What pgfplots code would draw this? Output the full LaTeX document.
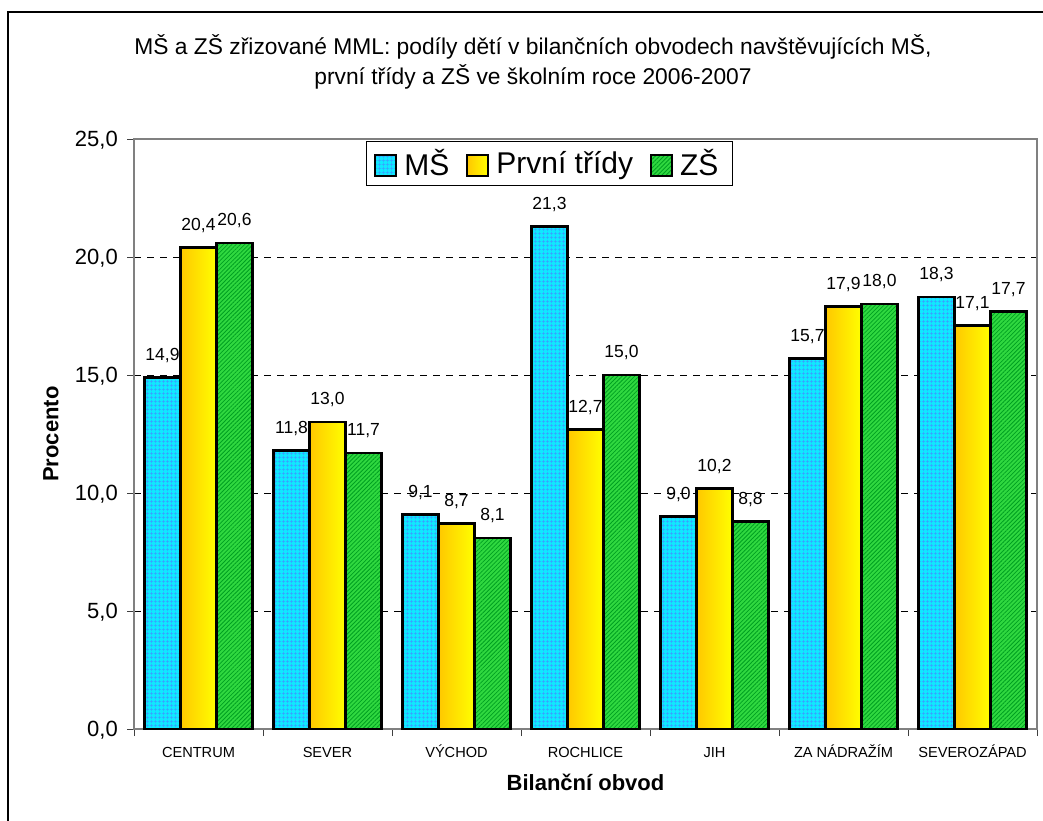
\documentclass[border=0pt]{standalone}
\usepackage{fontspec}
\setmainfont{Liberation Sans}
\usepackage{pgfplots}
\pgfplotsset{compat=1.18}
\usetikzlibrary{patterns.meta}

\definecolor{msfill}{HTML}{10E8FF}
\definecolor{msgrid}{HTML}{3C9CFF}
\definecolor{yl}{HTML}{FFC800}
\definecolor{yr}{HTML}{FFFF00}
\definecolor{zsfill}{HTML}{30D840}
\definecolor{zshatch}{HTML}{00A020}
\definecolor{axgray}{HTML}{808080}

\pgfplotsset{
  /pgf/number format/.cd, use comma, fixed, fixed zerofill, precision=1, assume math mode=true,
  /pgfplots/.cd,
  boxleg/.style={legend image code/.code={\draw[##1, line width=2pt] (0pt,-13pt) rectangle (21pt,8pt);}},
  % yellow bars: one plot per bar so each gets its own gradient
  yel/.style={ybar, bar width=0.279, bar shift=0, draw=black, line width=2.5pt, left color=yl, right color=yr, boxleg},
}

\begin{document}
\begin{tikzpicture}
\useasboundingbox (0pt,0pt) rectangle (1043pt,-820pt);
\clip (0pt,0pt) rectangle (1043pt,-820pt);
\draw[line width=1.5pt] (8pt,-840pt) -- (8pt,-12pt) -- (1060pt,-12pt);

\begin{axis}[
  at={(134pt,-729pt)}, anchor=south west,
  scale only axis, width=903pt, height=590pt,
  ybar,
  xmin=-0.5, xmax=6.5, ymin=0, ymax=25,
  ytick={0,5,...,25},
  xtick={0,...,6},
  xticklabels={CENTRUM, SEVER, VÝCHOD, ROCHLICE, JIH, ZA NÁDRAŽÍM, SEVEROZÁPAD},
  minor xtick={-0.5,0.5,...,6.5},
  tick pos=left, tick align=outside,
  major tick length=7pt, minor tick length=7pt,
  major x tick style={draw=none},
  tick style={draw=black!75, line width=1pt},
  axis line style={draw=axgray, line width=1.5pt},
  ymajorgrids,
  grid style={draw=black, line width=0.9pt, dash pattern=on 7pt off 6pt},
  yticklabel style={font=\fontsize{22}{22}\selectfont, anchor=base east, inner sep=0pt, xshift=-9pt, yshift=-7.9pt},
  xticklabel style={font=\fontsize{14.6}{14.6}\selectfont, anchor=base, inner sep=0pt, yshift=-21pt},
  ylabel={Procento},
  ylabel style={font=\bfseries\fontsize{22}{22}\selectfont, at={(axis description cs:-0.092,0.5)}, anchor=center},
  xlabel={Bilanční obvod},
  xlabel style={font=\bfseries\fontsize{22}{22}\selectfont, at={(axis description cs:0.5,-0.0898)}, anchor=center},
  nodes near coords,
  nodes near coords style={font=\fontsize{17.5}{17.5}\selectfont, inner sep=0pt, text depth=0pt, yshift=16pt},
  legend columns=-1,
  legend style={at={(0.2569,0.9966)}, anchor=north west, draw=black, line width=0.8pt,
    font=\fontsize{30}{30}\selectfont, inner xsep=8pt, inner ysep=8pt,
    nodes={inner sep=0pt},
    /tikz/every odd column/.append style={column sep=7pt},
    /tikz/every even column/.append style={column sep=17pt}},
]
\addplot[ybar, bar width=0.279, bar shift=-0.279, draw=black, line width=2.5pt, fill=msfill,
  postaction={pattern={Hatch[angle=0,distance=4pt,line width=0.5pt]}, pattern color=msgrid}, boxleg]
  coordinates {(0,14.9) (1,11.8) (2,9.1) (3,21.3) (4,9.0) (5,15.7) (6,18.3)};
\addlegendentry{MŠ}
\addplot[yel] coordinates {(0,20.4)};
\addlegendentry{První třídy}
\addplot[yel, forget plot] coordinates {(1,13.0)};
\addplot[yel, forget plot] coordinates {(2,8.7)};
\addplot[yel, forget plot] coordinates {(3,12.7)};
\addplot[yel, forget plot] coordinates {(4,10.2)};
\addplot[yel, forget plot] coordinates {(5,17.9)};
\addplot[yel, forget plot] coordinates {(6,17.1)};
\addplot[ybar, bar width=0.279, bar shift=0.279, draw=black, line width=2.5pt, fill=zsfill,
  postaction={pattern={Lines[angle=45,distance=3pt,line width=0.8pt]}, pattern color=zshatch}, boxleg]
  coordinates {(0,20.6) (1,11.7) (2,8.1) (3,15.0) (4,8.8) (5,18.0) (6,17.7)};
\addlegendentry{ZŠ\hspace*{6pt}}
\end{axis}

\node[font=\fontsize{22.8}{30}\selectfont, align=center] at (533pt,-62pt)
  {MŠ a ZŠ zřizované MML: podíly dětí v bilančních obvodech navštěvujících MŠ,\\ první třídy a ZŠ ve školním roce 2006-2007};
\end{tikzpicture}
\end{document}
